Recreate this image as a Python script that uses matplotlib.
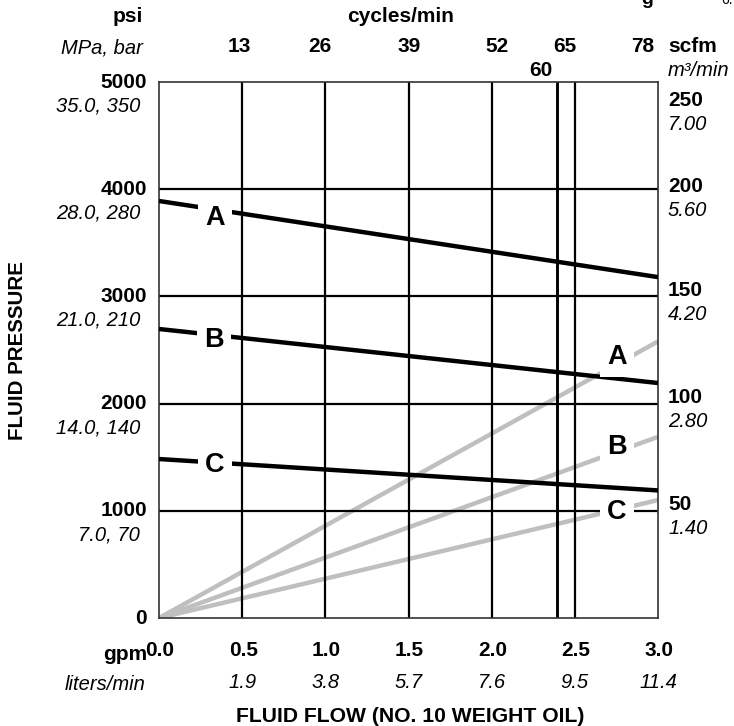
import matplotlib
matplotlib.use('Agg')
import matplotlib.pyplot as plt
import numpy as np

plt.rcParams['font.family'] = ['Liberation Sans', 'DejaVu Sans']

# axis ticks
psi_ticks = [0, 1000, 2000, 3000, 4000, 5000]
mpa_bar = ['', '7.0, 70', '14.0, 140', '21.0, 210', '28.0, 280', '35.0, 350']
gpm_ticks = [0.0, 0.5, 1.0, 1.5, 2.0, 2.5, 3.0]
lpm_labels = ['', '1.9', '3.8', '5.7', '7.6', '9.5', '11.4']
cycles = [13, 26, 39, 52, 65, 78]
cycles_per_gpm = 26.0
marker_cycles = '60'
marker_gpm = 2.39
scfm_ticks = [250, 200, 150, 100, 50]
m3_labels = ['7.00', '5.60', '4.20', '2.80', '1.40']
psi_per_scfm = 5000 / 250

# fluid pressure lines (psi at 0 and 3 gpm)
flow_ends = [0.0, 3.0]
press_A = [3890, 3180]
press_B = [2696, 2192]
press_C = [1483, 1190]
# air consumption lines (scfm at 0 and 3 gpm)
air_A = [0, 129]
air_B = [0, 84.5]
air_C = [0, 55]

names = ['A', 'B', 'C']
press_lbl_x = [0.337, 0.33, 0.337]
press_lbl_y = [3731, 2593, 1427]
air_lbl_x = [2.753, 2.753, 2.753]
air_lbl_y = [2435, 1595, 989]

W, H = 734, 726
fig = plt.figure(figsize=(W / 100, H / 100), dpi=100)
ax = fig.add_axes([159 / W, 1 - 618 / H, 499 / W, 536 / H])
ax.set_xlim(0, 3.0)
ax.set_ylim(0, 5000)
ax.set_xticks([])
ax.set_yticks([])
for s in ax.spines.values():
    s.set_linewidth(1.2)
    s.set_color('#333333')

# grid
for g in gpm_ticks[1:-1]:
    ax.axvline(g, color='black', lw=1.6, zorder=2)
for p in psi_ticks[1:-1]:
    ax.axhline(p, color='black', lw=1.6, zorder=2)
ax.axvline(marker_gpm, color='black', lw=2.1, zorder=2)

gray = '#bfbfbf'
for a in [air_A, air_B, air_C]:
    ax.plot(flow_ends, np.array(a) * psi_per_scfm, color=gray, lw=3.2,
            solid_capstyle='butt', zorder=1)
for p in [press_A, press_B, press_C]:
    ax.plot(flow_ends, p, color='black', lw=3.2, solid_capstyle='butt', zorder=3)

box = dict(facecolor='white', edgecolor='none', pad=5)
for n, x, y in zip(names, press_lbl_x, press_lbl_y):
    ax.text(x, y, n, fontsize=19.5, fontweight='bold', ha='center', va='center',
            bbox=box, zorder=5)
for n, x, y in zip(names, air_lbl_x, air_lbl_y):
    ax.text(x, y, n, fontsize=19.5, fontweight='bold', ha='center', va='center',
            bbox=box, zorder=5)

ytr = ax.get_yaxis_transform()
xtr = ax.get_xaxis_transform()
bsz, isz = 15, 14.5

# left psi labels
for p, m in zip(psi_ticks, mpa_bar):
    ax.annotate(str(p), (0, p), xycoords=ytr, xytext=(-12, 0), textcoords='offset pixels',
                ha='right', va='center', fontsize=bsz, fontweight='bold')
    if m:
        ax.annotate(m, (0, p), xycoords=ytr, xytext=(-19, -24), textcoords='offset pixels',
                    ha='right', va='center', fontsize=isz, style='italic')

# right scfm labels
r_dy = [-18, 3, 6, 6, 6]
for v, m, dy in zip(scfm_ticks, m3_labels, r_dy):
    y = v * psi_per_scfm
    ax.annotate(str(v), (1, y), xycoords=ytr, xytext=(10, dy), textcoords='offset pixels',
                ha='left', va='center', fontsize=bsz, fontweight='bold')
    ax.annotate(m, (1, y), xycoords=ytr, xytext=(10, dy - 24), textcoords='offset pixels',
                ha='left', va='center', fontsize=isz, style='italic')

# bottom gpm labels
for g, l in zip(gpm_ticks, lpm_labels):
    ax.annotate('%.1f' % g, (g, 0), xycoords=xtr, xytext=(1, -33), textcoords='offset pixels',
                ha='center', va='center', fontsize=bsz, fontweight='bold')
    if l:
        ax.annotate(l, (g, 0), xycoords=xtr, xytext=(0, -65), textcoords='offset pixels',
                    ha='center', va='center', fontsize=isz, style='italic')

# top cycles labels
cyc_dx = [-3, -5, 1, 5, -10, -15]
for c, dx in zip(cycles, cyc_dx):
    ax.annotate(str(c), (c / cycles_per_gpm, 1), xycoords=xtr, xytext=(dx, 36),
                textcoords='offset pixels', ha='center', va='center',
                fontsize=bsz, fontweight='bold')
ax.annotate(marker_cycles, (marker_gpm, 1), xycoords=xtr, xytext=(-4, 11),
            textcoords='offset pixels', ha='right', va='center',
            fontsize=bsz, fontweight='bold')


def ftext(x, y, s, **kw):
    fig.text(x / W, 1 - y / H, s, **kw)


ftext(401, 16, 'cycles/min', ha='center', va='center', fontsize=bsz, fontweight='bold')
ftext(143, 17, 'psi', ha='right', va='center', fontsize=bsz, fontweight='bold')
ftext(143, 48, 'MPa, bar', ha='right', va='center', fontsize=isz, style='italic')
ftext(668, 46, 'scfm', ha='left', va='center', fontsize=bsz, fontweight='bold')
ftext(668, 71, 'm\u00b3/min', ha='left', va='center', fontsize=isz, style='italic')
ftext(147, 655, 'gpm', ha='right', va='center', fontsize=bsz, fontweight='bold')
ftext(146, 684, 'liters/min', ha='right', va='center', fontsize=isz, style='italic')
ftext(410, 717, 'FLUID FLOW (NO. 10 WEIGHT OIL)', ha='center', va='center',
      fontsize=15.2, fontweight='bold')
ftext(18, 351, 'FLUID PRESSURE', ha='center', va='center', rotation=90,
      fontsize=14.8, fontweight='bold')
# clipped fragments at the top right edge, as in the reference
ftext(647, 0, 'g', ha='center', va='center', fontsize=14, fontweight='bold')
ftext(727, 0, '6.', ha='center', va='center', fontsize=10)

fig.savefig('out.png', dpi=100)
